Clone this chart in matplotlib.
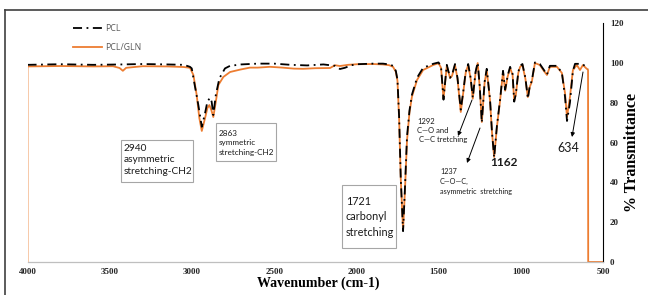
import matplotlib
matplotlib.use("Agg")
import matplotlib.pyplot as plt
from matplotlib.lines import Line2D
from matplotlib.patches import Rectangle

# ---------------- data ----------------
x_ticks = [4000, 3500, 3000, 2500, 2000, 1500, 1000, 500]
y_ticks = [0, 20, 40, 60, 80, 100, 120]

wn_gln = [4000, 4000, 3800, 3600, 3480, 3440, 3420, 3400, 3300, 3150, 3050, 3012,
          2991, 2971, 2955, 2940, 2920, 2906, 2894, 2882, 2870, 2855, 2839, 2809,
          2768, 2707, 2647, 2600, 2525, 2450, 2380, 2324, 2250, 2160, 2130, 2100,
          2050, 1996, 1900, 1838, 1800, 1777, 1760, 1750, 1740, 1730, 1716, 1705,
          1692, 1677, 1662, 1631, 1594, 1533, 1500, 1485, 1470, 1460, 1450, 1430,
          1418, 1400, 1385, 1365, 1350, 1335, 1320, 1305, 1292, 1275, 1262, 1250,
          1237, 1220, 1207, 1187, 1175, 1162, 1145, 1126, 1108, 1095, 1080, 1065,
          1050, 1040, 1030, 1015, 1004, 990, 972, 957, 945, 933, 914, 884, 860,
          841, 823, 780, 750, 731, 719, 701, 683, 659, 640, 622, 604, 591, 590, 500]
t_gln = [0, 98.2, 98.4, 98.2, 98.3, 97.4, 96.0, 97.5, 98.3, 98.2, 97.9, 97.5,
         93.9, 83.8, 72.3, 65.8, 72.3, 77.3, 78.8, 76.3, 72.8, 80.3, 88.9, 92.9,
         95.4, 96.6, 97.6, 97.6, 98.0, 97.6, 97.1, 97.0, 97.3, 97.4, 98.8, 98.4,
         99.0, 99.3, 99.4, 99.2, 98.8, 98.0, 95.5, 91.0, 72.0, 42.0, 16.0, 35.0,
         61.0, 75.0, 83.0, 91.4, 96.4, 98.9, 99.8, 97.5, 82.0, 90.0, 98.5, 92.4,
         93.5, 98.9, 92.0, 75.3, 85.0, 95.0, 98.9, 92.0, 82.0, 95.0, 99.9, 88.0,
         70.3, 90.0, 96.4, 81.0, 65.0, 52.7, 68.0, 81.0, 95.4, 86.0, 93.0, 97.4,
         94.0, 81.0, 84.0, 95.0, 98.0, 98.9, 92.0, 82.8, 88.0, 90.4, 99.9, 98.9, 96.0,
         93.9, 98.0, 98.0, 94.9, 84.8, 72.8, 82.8, 96.4, 98.9, 96.4, 98.9, 97.4, 96.5, 0, 0]

wn_pcl = [4000, 3800, 3600, 3420, 3300, 3150, 3050, 3012, 3001, 2991, 2961, 2940,
          2920, 2906, 2890, 2880, 2870, 2855, 2833, 2799, 2768, 2700, 2600, 2500,
          2400, 2300, 2200, 2130, 2100, 2070, 2030, 1996, 1900, 1838, 1800, 1777,
          1760, 1750, 1740, 1730, 1716, 1705, 1692, 1677, 1662, 1631, 1594, 1533,
          1500, 1485, 1470, 1460, 1450, 1430, 1418, 1400, 1385, 1365, 1350, 1335,
          1320, 1305, 1292, 1275, 1262, 1250, 1237, 1220, 1207, 1187, 1175, 1162,
          1145, 1126, 1108, 1095, 1080, 1065, 1050, 1040, 1030, 1015, 1004, 990,
          972, 957, 945, 933, 914, 884, 860, 841, 823, 780, 750, 731, 719, 701,
          683, 670, 640, 622, 604, 591]
t_pcl = [99.0, 99.3, 99.0, 99.2, 99.4, 99.2, 99.0, 98.0, 97.2, 92.4, 78.8, 67.9,
         74.8, 80.5, 82.5, 80.5, 73.8, 83.8, 92.2, 97.2, 98.5, 99.2, 99.6, 99.6,
         99.0, 98.7, 99.2, 98.5, 96.9, 97.5, 98.8, 99.3, 99.6, 99.6, 99.2, 98.5,
         96.0, 91.5, 73.0, 42.0, 15.5, 36.0, 63.0, 76.0, 84.0, 92.5, 97.5, 99.5,
         100.2, 98.0, 81.5, 90.5, 99.0, 92.5, 94.0, 99.4, 92.5, 76.5, 85.5, 95.5,
         99.4, 92.5, 82.5, 95.5, 100.2, 88.5, 70.0, 90.5, 97.0, 81.5, 65.0, 52.5,
         68.5, 81.5, 96.0, 86.5, 93.5, 98.0, 94.5, 80.5, 84.5, 95.5, 98.5, 99.4,
         92.5, 82.0, 88.5, 91.0, 100.2, 99.4, 96.5, 94.0, 98.5, 98.5, 95.0, 83.0,
         70.8, 80.0, 96.0, 99.5, 99.5, 99.2, 98.0, 97.0]

# ---------------- figure ----------------
W, H = 648, 295
fig = plt.figure(figsize=(W / 100, H / 100), dpi=100)
ax = fig.add_axes([27.5 / W, 1 - 262 / H, (603 - 27.5) / W, (262 - 23) / H])

orange = "#ED7D31"
l_gln, = ax.plot(wn_gln, t_gln, color=orange, lw=1.3, zorder=2, label="PCL/GLN")
l_pcl, = ax.plot(wn_pcl, t_pcl, color="black", lw=1.3, zorder=3,
                 linestyle=(0, (5, 2.5, 1, 2.5)), label="PCL")

ax.set_xlim(4000, 500)
ax.set_ylim(0, 120)
ax.set_xticks(x_ticks)
ax.set_yticks(y_ticks)
ax.yaxis.tick_right()
ax.tick_params(length=0)
ax.tick_params(axis="x", pad=4)
ax.tick_params(axis="y", pad=5)
for lab in ax.get_xticklabels() + ax.get_yticklabels():
    lab.set_fontfamily("Liberation Serif")
    lab.set_fontweight("bold")
    lab.set_fontsize(6.5)
    lab.set_color("#262626")

for s in ["top", "left"]:
    ax.spines[s].set_visible(False)
ax.spines["bottom"].set_color("#BFBFBF")
ax.spines["bottom"].set_linewidth(0.9)
ax.spines["right"].set_color("black")
ax.spines["right"].set_linewidth(0.8)

fig.text(318 / W, 1 - 283 / H, "Wavenumber (cm-1)", ha="center", va="center",
         family="Liberation Serif", weight="bold", fontsize=10)
fig.text(632 / W, 1 - 152 / H, "% Transmittance", ha="center", va="center",
         rotation=90, family="Liberation Serif", weight="bold", fontsize=11.5)

leg = ax.legend(handles=[l_pcl, l_gln], loc="upper left",
                bbox_to_anchor=(69 / W, 1 - 20 / H), bbox_transform=fig.transFigure,
                frameon=False, fontsize=6.3, handlelength=3.3, handletextpad=0.35,
                labelspacing=1.05, borderpad=0)
for t in leg.get_texts():
    t.set_color("#595959")
    t.set_fontfamily("Open Sans")

# outer frame
fig.add_artist(Line2D([5 / W, 1], [1 - 10 / H, 1 - 10 / H], transform=fig.transFigure,
                      color="#404040", lw=1.2))
fig.add_artist(Line2D([5 / W, 5 / W], [0, 1 - 10 / H], transform=fig.transFigure,
                      color="#404040", lw=1.2))

# annotation boxes (figure pixels, top-left origin)
def box(x0, y0, x1, y1):
    fig.add_artist(Rectangle((x0 / W, 1 - y1 / H), (x1 - x0) / W, (y1 - y0) / H,
                             transform=fig.transFigure, fc="white", ec="#A6A6A6",
                             lw=0.8, zorder=4))

fam = "Lato"
tc = "#1a1a1a"
box(121, 140, 193, 182)
fig.text(124 / W, 1 - 160 / H, "2940\nasymmetric\nstretching-CH2", ha="left", va="center",
         family=fam, fontsize=7.3, linespacing=1.3, color=tc, zorder=5)
box(216, 123, 276, 161)
fig.text(219 / W, 1 - 143 / H, "2863\nsymmetric\nstretching-CH2", ha="left", va="center",
         family=fam, fontsize=5.9, linespacing=1.38, color=tc, zorder=5)
box(342, 185, 396, 248)
fig.text(346 / W, 1 - 217 / H, "1721\ncarbonyl\nstretching", ha="left", va="center",
         family=fam, fontsize=7.8, linespacing=1.45, color=tc, zorder=5)
fig.text(417 / W, 1 - 118 / H, "1292\nC\u2014O and\n C\u2014C tretching", ha="left", va="top",
         family=fam, fontsize=5.5, linespacing=1.35, color=tc)
fig.text(440 / W, 1 - 168.5 / H, "1237\nC\u2014O\u2014C,\nasymmetric  stretching", ha="left",
         va="top", family=fam, fontsize=5.2, linespacing=1.45, color=tc)
fig.text(504 / W, 1 - 162 / H, "1162", ha="center", va="center", family=fam,
         fontsize=8.5, weight="bold", color=tc)
fig.text(568 / W, 1 - 148 / H, "634", ha="center", va="center", family=fam,
         fontsize=9, color=tc)

arrow = dict(arrowstyle="-|>", color="black", lw=0.7, mutation_scale=6,
             shrinkA=0, shrinkB=0)
for (x1, y1, x2, y2) in [(472, 100, 458, 136), (480, 128, 467, 163), (583, 72, 572, 137)]:
    ax.annotate("", xy=(x2, H - y2), xytext=(x1, H - y1), xycoords="figure pixels",
                textcoords="figure pixels", arrowprops=arrow)

fig.savefig("out.png", dpi=100)
